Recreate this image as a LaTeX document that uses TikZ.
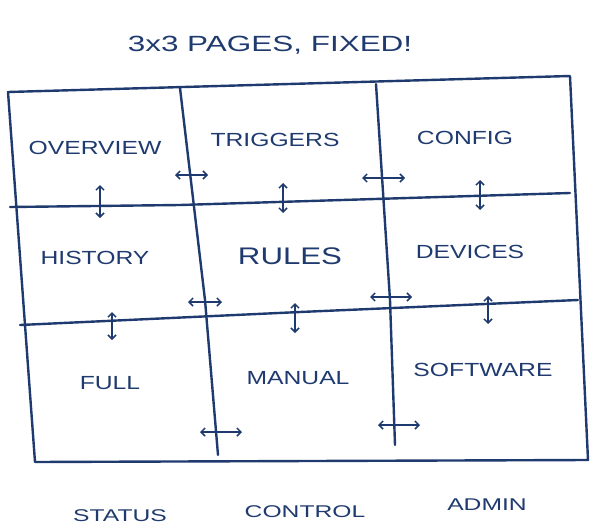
\documentclass[tikz,border=0pt]{standalone}
\usepackage{fontspec}
\setmainfont{Liberation Sans}
\usetikzlibrary{arrows.meta}
\definecolor{ink}{HTML}{1F3A6E}
\tikzset{
  pen/.style={draw=ink,line width=2.4pt,line cap=round,line join=round},
  tip/.style={ink,line width=1.5pt,{Straight Barb[length=4pt]}-{Straight Barb[length=4pt]}},
  lbl/.style={text=ink,font=\fontsize{19}{22}\selectfont,xscale=1.3},
  foot/.style={text=ink,font=\fontsize{17}{20}\selectfont,xscale=1.45}
}
\begin{document}
\begin{tikzpicture}[x=1pt,y=-1pt]
\useasboundingbox (0,0) rectangle (600,530);
% frame and grid
\draw[pen] (8,92) -- (570,76) -- (588,460) -- (35,462) -- cycle;
\draw[pen] (10,207) -- (180,205) -- (570,193);
\draw[pen] (20,325) -- (300,312) -- (578,300);
\draw[pen] (180,88) -- (205,300) -- (218,455);
\draw[pen] (376,84) -- (390,300) -- (395,445);
% page names
\node[lbl,font=\fontsize{22}{26}\selectfont,xscale=1.1] (title) at (270,45) {3x3 PAGES, FIXED!};
\node[lbl] (ov) at (95,148) {OVERVIEW};
\node[lbl] (tr) at (275,140) {TRIGGERS};
\node[lbl] (cf) at (465,138) {CONFIG};
\node[lbl] (hi) at (95,258) {HISTORY};
\node[lbl,font=\fontsize{24}{28}\selectfont] (ru) at (290,256) {RULES};
\node[lbl] (de) at (470,252) {DEVICES};
\node[lbl] (fu) at (110,383) {FULL};
\node[lbl] (ma) at (298,378) {MANUAL};
\node[lbl] (sw) at (483,370) {SOFTWARE};
% sections
\node[foot] (st) at (120,516) {STATUS};
\node[foot] (co) at (305,512) {CONTROL};
\node[foot] (ad) at (487,505) {ADMIN};
% swipe arrows
\foreach \x/\a/\b in {100/185/218, 283/183/213, 480/180/210, 112/312/340, 295/303/333, 488/296/324}
  \draw[tip] (\x,\a) -- (\x,\b);
\foreach \y/\a/\b in {175/175/208, 178/362/405, 302/188/222, 297/370/412, 432/200/242, 425/378/420}
  \draw[tip] (\a,\y) -- (\b,\y);
\end{tikzpicture}
\end{document}
